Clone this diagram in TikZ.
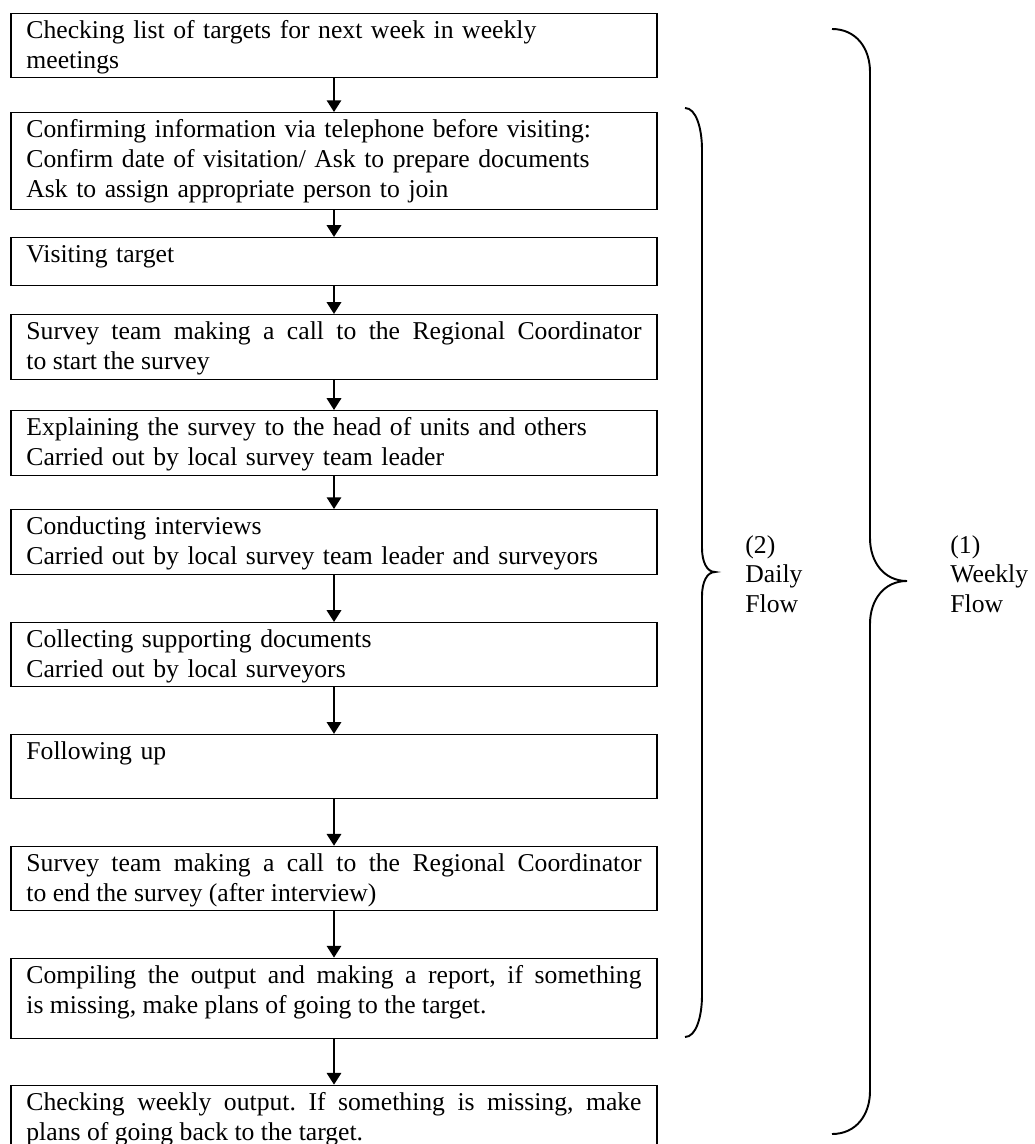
\documentclass[tikz,border=0pt]{standalone}
\usepackage{fontspec}
\setmainfont{Liberation Serif}
\usetikzlibrary{positioning, arrows.meta}
\frenchspacing

\tikzset{
  stepbox/.style={draw, line width=0.6pt, text width=287.6pt, inner xsep=7.2pt, inner ysep=0pt,
    text height=11.7pt, align=left, font=\fontsize{12pt}{14pt}\selectfont},
  flowlabel/.style={text width=50pt, inner sep=0pt, align=left, anchor=base west,
    font=\fontsize{12pt}{14pt}\selectfont},
  flowarrow/.style={-{Triangle[width=6.7pt,length=5.5pt]}, line width=1pt},
  bracket/.style={line width=0.9pt}
}

\begin{document}
\begin{tikzpicture}[x=0.4675pt, y=-0.4675pt]
\useasboundingbox (0,0) rectangle (1035,1144);
\clip (0,0) rectangle (1035,1144);

\node[stepbox, anchor=north, text depth=18.2pt] (s1) at (334,13) {Checking list of targets for next week in weekly\\meetings};
\node[stepbox, below=15.8pt of s1, text depth=33.6pt] (s2) {Confirming information via telephone before visiting:\\Confirm date of visitation/ Ask to prepare documents\\Ask to assign appropriate person to join};
\node[stepbox, below=12.5pt of s2, text depth=10.7pt] (s3) {Visiting target};
\node[stepbox, align=justify, below=13pt of s3, text depth=18.7pt] (s4) {Survey team making a call to the Regional Coordinator\linebreak to start the survey};
\node[stepbox, below=13.9pt of s4, text depth=18.7pt] (s5) {Explaining the survey to the head of units and others\\Carried out by local survey team leader};
\node[stepbox, below=15.3pt of s5, text depth=18.7pt] (s6) {Conducting interviews\\Carried out by local survey team leader and surveyors};
\node[stepbox, below=21.8pt of s6, text depth=18.2pt] (s7) {Collecting supporting documents\\Carried out by local surveyors};
\node[stepbox, below=21.8pt of s7, text depth=18.2pt] (s8) {Following up};
\node[stepbox, align=justify, below=21.8pt of s8, text depth=18.2pt] (s9) {Survey team making a call to the Regional Coordinator\linebreak to end the survey (after interview)};
\node[stepbox, align=justify, below=21.8pt of s9, text depth=25.7pt] (s10) {Compiling the output and making a report, if something\linebreak is missing, make plans of going to the target.};
\node[stepbox, align=justify, below=21.4pt of s10, text depth=18.7pt] (s11) {Checking weekly output. If something is missing, make\linebreak plans of going back to the target.};

\node[flowlabel] (daily) at (745,553) {(2)\\Daily\\Flow};
\node[flowlabel] (weekly) at (950,553) {(1)\\Weekly\\Flow};

\draw[flowarrow]
    (s1) edge (s2)
    (s2) edge (s3)
    (s3) edge (s4)
    (s4) edge (s5)
    (s5) edge (s6)
    (s6) edge (s7)
    (s7) edge (s8)
    (s8) edge (s9)
    (s9) edge (s10)
    (s10) edge (s11)
    ;

\draw[bracket] (685,108) .. controls (696,108) and (702,128) .. (702,150) -- (702,548)
    .. controls (702,562) and (707,572) .. (715,572)
    .. controls (707,572) and (702,582) .. (702,596) -- (702,995)
    .. controls (702,1017) and (696,1037) .. (685,1037);
\draw[bracket] (832,29) .. controls (856,29) and (870,48) .. (870,72) -- (870,538)
    .. controls (870,562) and (884,581) .. (907,581)
    .. controls (884,581) and (870,600) .. (870,624) -- (870,1091)
    .. controls (870,1115) and (856,1134) .. (832,1134);
\end{tikzpicture}
\end{document}
